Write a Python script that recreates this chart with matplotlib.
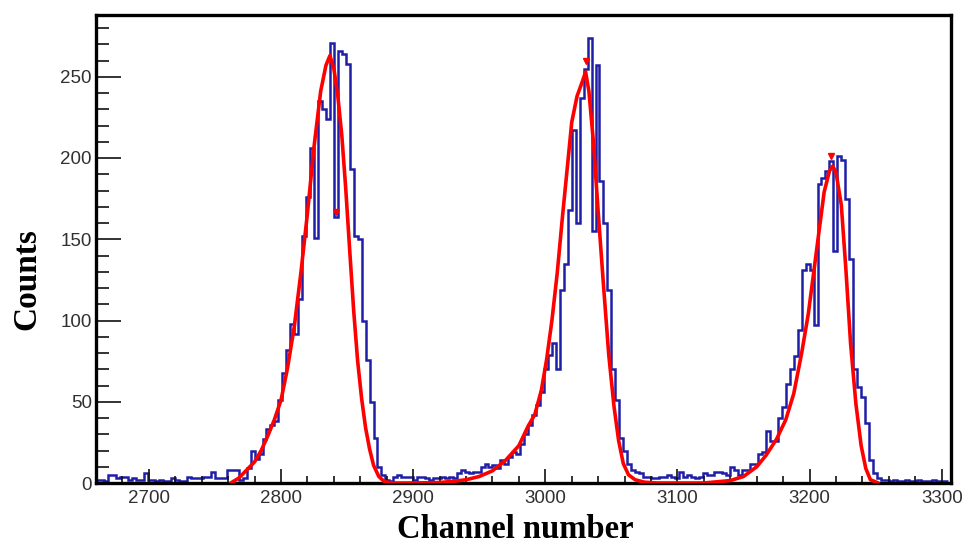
import matplotlib
matplotlib.use("Agg")
import matplotlib.pyplot as plt
from matplotlib.ticker import MultipleLocator
import numpy as np

# ---------------- data ----------------
bin_start = 2660
bin_width = 3
counts = [
    2, 2, 1, 5, 5, 3, 4, 4, 2, 3,
    2, 2, 6, 2, 2, 1, 2, 1, 1, 3,
    2, 1, 1, 4, 3, 3, 3, 4, 4, 7,
    3, 3, 3, 8, 8, 8, 2, 3, 9, 20,
    15, 18, 27, 33, 36, 38, 51, 68, 82, 98,
    92, 113, 152, 176, 206, 151, 235, 230, 224, 271,
    164, 266, 264, 258, 193, 152, 150, 100, 76, 50,
    28, 10, 5, 2, 1, 4, 5, 4, 4, 4,
    2, 4, 4, 3, 2, 3, 3, 4, 3, 4,
    3, 6, 8, 7, 6, 7, 7, 10, 12, 10,
    11, 9, 14, 12, 16, 19, 18, 24, 30, 36,
    42, 48, 56, 70, 79, 86, 70, 119, 135, 168,
    217, 160, 237, 255, 274, 155, 257, 186, 160, 119,
    70, 51, 28, 20, 12, 8, 7, 6, 4, 4,
    3, 3, 4, 4, 5, 4, 3, 7, 4, 5,
    4, 3, 4, 6, 5, 5, 7, 7, 6, 5,
    10, 8, 5, 8, 8, 12, 12, 18, 19, 32,
    26, 26, 40, 47, 61, 70, 78, 94, 131, 135,
    131, 97, 184, 188, 192, 198, 143, 201, 199, 175,
    138, 70, 59, 53, 37, 14, 6, 3, 2, 2,
    1, 2, 1, 1, 2, 1, 1, 2, 1, 1,
    1, 2, 1, 1, 1,
]

fit_channel = [2762, 2768, 2774, 2780, 2785, 2790, 2795, 2800, 2805, 2810,
               2815, 2820, 2825, 2830, 2834, 2837, 2840, 2843, 2846, 2849,
               2852, 2855, 2858, 2861, 2864, 2867, 2870, 2874, 2878, 2884,
               2900, 2920, 2930, 2940, 2950, 2960, 2970, 2980, 2987, 2992,
               2997, 3001, 3005, 3009, 3013, 3017, 3020, 3024, 3028, 3030.5,
               3033, 3036.5, 3040, 3044, 3048, 3052, 3055.5, 3059, 3063, 3068,
               3075, 3085, 3120, 3140, 3150, 3160, 3167, 3175, 3182, 3188,
               3194, 3199, 3203, 3207, 3211, 3215, 3217.5, 3220, 3224, 3227.5,
               3231, 3235, 3239, 3242.5, 3246, 3252]
fit_counts = [0, 3, 8, 13, 20, 29, 39, 51, 71, 96,
              129, 166, 207, 241, 257, 263, 255, 238, 214, 181,
              143, 106, 75, 52, 34, 21, 11, 4, 1, 0,
              0, 0.3, 1, 2, 4, 7.5, 14, 23, 35, 42,
              57, 76, 100, 129, 164, 197, 222, 238, 247, 253,
              241, 209, 167, 122, 79, 47, 26, 12, 5, 2,
              0.5, 0, 0, 1.5, 4, 10, 17, 27, 39, 55,
              80, 104, 129, 154, 179, 192, 195, 191, 171, 131,
              86, 49, 23, 9, 2, 0]

peak_channel = [2841.5, 3031, 3216]
peak_counts = [164, 257, 198]

xticks = [2700, 2800, 2900, 3000, 3100, 3200, 3300]
yticks = [0, 50, 100, 150, 200, 250]

# ---------------- figure ----------------
fig = plt.figure(figsize=(9.64, 5.44), dpi=100)
ax = fig.add_axes([96/964, 1 - 483/544, (951 - 96)/964, (483 - 15)/544])

edges = bin_start + bin_width * np.arange(len(counts) + 1)
ax.stairs(counts, edges, color="#1e1ea6", linewidth=1.8, baseline=None)
ax.plot(fit_channel, fit_counts, color="#ff0000", linewidth=2.6,
        solid_capstyle="round", solid_joinstyle="round", zorder=3)
ax.plot(peak_channel, [c + 3 for c in peak_counts], linestyle="none",
        marker="v", markersize=5, color="#ff0000", zorder=4)

ax.set_xlim(2660, 3307)
ax.set_ylim(0, 288)

ax.xaxis.set_major_locator(MultipleLocator(100))
ax.xaxis.set_minor_locator(MultipleLocator(20))
ax.yaxis.set_major_locator(MultipleLocator(50))
ax.yaxis.set_minor_locator(MultipleLocator(10))
ax.set_xticks(xticks)
ax.set_yticks(yticks)

label_font = dict(family=["Liberation Sans", "DejaVu Sans"], size=13.5)
ax.set_xticklabels([str(t) for t in xticks], **label_font, color="#303030")
ax.set_yticklabels([str(t) for t in yticks], **label_font, color="#303030")

ax.tick_params(axis="y", which="major", direction="in", length=18, width=1.2,
               pad=3, color="#111111")
ax.tick_params(axis="y", which="minor", direction="in", length=9, width=1.2,
               color="#111111")
ax.tick_params(axis="x", which="major", direction="in", length=10, width=1.2,
               pad=5, color="#111111")
ax.tick_params(axis="x", which="minor", direction="in", length=5, width=1.2,
               color="#111111")

for side in ["left", "right", "top", "bottom"]:
    ax.spines[side].set_linewidth(2.4)
    ax.spines[side].set_color("#000000")

fig.text(27/964, 1 - 279/544, "Counts", rotation=90, ha="center", va="center",
         family=["Liberation Serif", "DejaVu Serif"], weight="bold", size=24)
fig.text(515/964, 1 - 538/544, "Channel number", ha="center", va="baseline",
         family=["Liberation Serif", "DejaVu Serif"], weight="bold", size=23.5)

fig.savefig("out.png", dpi=100)
